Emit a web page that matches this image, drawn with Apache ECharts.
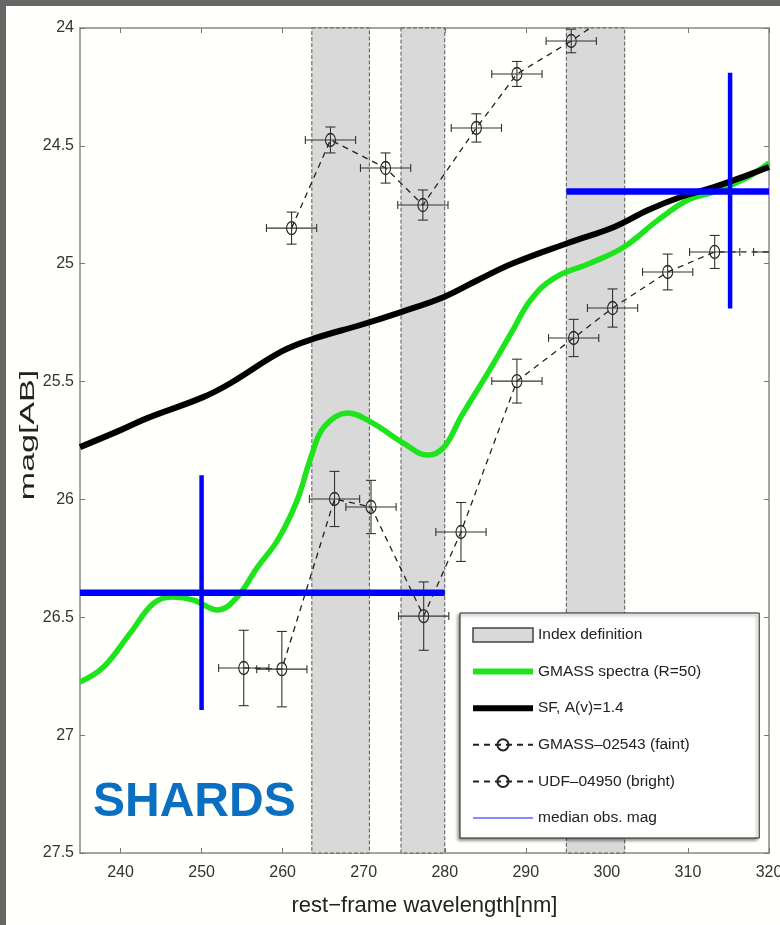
<!DOCTYPE html>
<html>
<head>
<meta charset="utf-8">
<script src="https://cdn.jsdelivr.net/npm/echarts@6/dist/echarts.min.js"></script>
<style>
  html, body { margin: 0; padding: 0; background: #fffffb; }
  #chart { width: 780px; height: 925px; }
</style>
</head>
<body>
<div id="chart"></div>
<script>
// ---- data ----
var wavelengthTicks = [240, 250, 260, 270, 280, 290, 300, 310, 320];

// shaded "Index definition" bands [start, end] in nm
var bands = [[263.6, 270.7], [274.6, 280.0], [295.0, 302.2]];

// GMASS spectra (R=50) - green curve
var gmassWl  = [235.0, 237.9, 241.2, 244.1, 246.5, 249.0, 252.0, 254.4, 256.9, 259.4, 261.8, 263.5, 265.1,
                268.0, 270.9, 274.9, 277.9, 279.9, 282.0, 285.3, 288.2, 290.6, 293.5, 298.0, 302.1, 306.3,
                310.0, 313.2, 317.4, 320.0];
var gmassMag = [26.775, 26.711, 26.567, 26.44, 26.414, 26.427, 26.469, 26.414, 26.287, 26.172, 26.003, 25.82, 25.693,
                25.633, 25.672, 25.761, 25.812, 25.778, 25.65, 25.464, 25.294, 25.154, 25.061, 24.997, 24.929, 24.815,
                24.73, 24.696, 24.632, 24.573];

// SF, A(v)=1.4 - black curve
var sfWl  = [235.0, 240.0, 243.3, 250.2, 253.6, 260.0, 264.1, 269.6, 274.6, 279.9, 284.1, 288.5, 295.2, 300.9,
             305.1, 309.1, 313.2, 317.4, 320.0];
var sfMag = [25.778, 25.706, 25.655, 25.566, 25.506, 25.37, 25.315, 25.26, 25.205, 25.141, 25.069, 24.997, 24.912, 24.844,
             24.772, 24.717, 24.675, 24.624, 24.59];

// GMASS-02543 (faint)
var faintWl     = [255.2, 259.9, 266.4, 270.9, 277.4, 282.0, 288.9, 295.9, 300.7, 307.5, 313.3, 321.2];
var faintMag    = [26.715, 26.72, 25.998, 26.032, 26.495, 26.138, 25.498, 25.315, 25.188, 25.035, 24.95, 24.95];
var faintWlErr  = [3.1, 3.1, 3.1, 3.1, 3.1, 3.1, 3.1, 3.1, 3.1, 3.1, 3.1, 3.1];
var faintMagErr = [0.16, 0.16, 0.117, 0.113, 0.145, 0.125, 0.093, 0.079, 0.081, 0.076, 0.07, 0.07];

// UDF-04950 (bright)
var brightWl     = [261.1, 265.9, 272.7, 277.3, 283.9, 288.9, 295.6, 303.0];
var brightMag    = [24.849, 24.475, 24.594, 24.751, 24.424, 24.195, 24.055, 23.88];
var brightWlErr  = [3.1, 3.1, 3.1, 3.1, 3.1, 3.1, 3.1, 3.1];
var brightMagErr = [0.068, 0.055, 0.064, 0.064, 0.06, 0.053, 0.05, 0.05];

// median observed magnitude crosses
var medianWlRange  = [[235, 280], [295, 320]];
var medianMag      = [26.396, 24.694];
var medianWl       = [250, 315.2];
var medianMagRange = [[25.897, 26.893], [24.19, 25.19]];

// ---- fonts ----
function fontExists(name) {
    var c = document.createElement('canvas').getContext('2d');
    var s = 'mmmmmwwwwiiil 0123456789 Index';
    c.font = '40px monospace';
    var w1 = c.measureText(s).width;
    c.font = '40px "' + name + '", monospace';
    return c.measureText(s).width !== w1;
}
var NARROW = fontExists('Liberation Sans Narrow');
var FONT = NARROW ? '"Liberation Sans Narrow", "Liberation Sans", Arial, sans-serif'
                  : '"Liberation Sans", Arial, sans-serif';
var tickSize = NARROW ? 19 : 16;
var legendSize = NARROW ? 19 : 15.5;
var nameSize = NARROW ? 26 : 22;

var GREEN = '#1de41d';
var BLUE = '#0000ff';

function pairs(xs, ys) {
    return xs.map(function (x, i) { return [x, ys[i]]; });
}

// error bars drawn with the axes' own scale
function errorBar(params, api) {
    var x = api.value(0), y = api.value(1), dx = api.value(2), dy = api.value(3);
    var l = api.coord([x - dx, y]), r = api.coord([x + dx, y]);
    var t = api.coord([x, y - dy]), b = api.coord([x, y + dy]);
    var st = { stroke: '#333', lineWidth: 1.1 };
    var cap = 5, capX = 4;
    function ln(x1, y1, x2, y2) {
        return { type: 'line', shape: { x1: x1, y1: y1, x2: x2, y2: y2 }, style: st };
    }
    return {
        type: 'group',
        children: [
            ln(l[0], l[1], r[0], r[1]),
            ln(t[0], t[1], b[0], b[1]),
            ln(t[0] - cap, t[1], t[0] + cap, t[1]),
            ln(b[0] - cap, b[1], b[0] + cap, b[1]),
            ln(l[0], l[1] - capX, l[0], l[1] + capX),
            ln(r[0], r[1] - capX, r[0], r[1] + capX)
        ]
    };
}

function bandItem(params, api) {
    var a = api.coord([api.value(0), 24]);
    var b = api.coord([api.value(1), 24]);
    var cs = params.coordSys;
    return {
        type: 'rect',
        shape: { x: a[0], y: cs.y, width: b[0] - a[0], height: cs.height },
        style: { fill: '#d9d9d9', stroke: '#555', lineWidth: 1, lineDash: [4, 2] }
    };
}

var chart = echarts.init(document.getElementById('chart'));

var axisLineStyle = { color: '#888', width: 1.5 };

var option = {
    backgroundColor: '#fffffb',
    animation: false,
    grid: { left: 80, right: 11, top: 28, bottom: 72, outerBoundsMode: 'none', containLabel: false },
    xAxis: [{
        type: 'value',
        min: 235,
        max: 320,
        name: 'rest\u2212frame wavelength[nm]',
        nameLocation: 'middle',
        nameGap: 42,
        nameTextStyle: { fontFamily: FONT, fontSize: nameSize, color: '#222' },
        axisLine: { show: true, lineStyle: axisLineStyle },
        axisTick: { show: true, inside: true, length: 5, customValues: wavelengthTicks, lineStyle: { color: '#777' } },
        axisLabel: { customValues: wavelengthTicks, fontFamily: FONT, fontSize: tickSize, color: '#333', margin: 12 },
        splitLine: { show: false }
    }, {
        type: 'value',
        position: 'top',
        min: 235,
        max: 320,
        axisLine: { show: true, lineStyle: axisLineStyle },
        axisTick: { show: true, inside: true, length: 5, customValues: wavelengthTicks, lineStyle: { color: '#777' } },
        axisLabel: { show: false },
        splitLine: { show: false }
    }],
    yAxis: [{
        type: 'value',
        inverse: true,
        min: 24,
        max: 27.5,
        interval: 0.5,
        axisLine: { show: true, lineStyle: axisLineStyle },
        axisTick: { show: true, inside: true, length: 5, lineStyle: { color: '#777' } },
        axisLabel: { fontFamily: FONT, fontSize: tickSize, color: '#333', margin: 6, showMinLabel: true, showMaxLabel: true },
        splitLine: { show: false }
    }, {
        type: 'value',
        position: 'right',
        inverse: true,
        min: 24,
        max: 27.5,
        interval: 0.5,
        axisLine: { show: true, lineStyle: axisLineStyle },
        axisTick: { show: true, inside: true, length: 5, lineStyle: { color: '#777' } },
        axisLabel: { show: false },
        splitLine: { show: false }
    }],
    legend: {
        orient: 'vertical',
        left: 460,
        top: 613,
        padding: [14, 58, 12, 12],
        itemWidth: 60,
        itemHeight: 14,
        itemGap: 20.6,
        backgroundColor: '#fff',
        borderColor: '#222',
        borderWidth: 1,
        borderRadius: 0,
        shadowColor: 'rgba(0,0,0,0.45)',
        shadowBlur: 3,
        shadowOffsetX: -2,
        shadowOffsetY: 2,
        textStyle: { fontFamily: FONT, fontSize: legendSize, color: '#222' },
        data: [
            { name: 'Index definition', icon: 'rect', itemStyle: { color: '#d9d9d9', borderColor: '#444', borderWidth: 1.5 } },
            { name: 'GMASS spectra (R=50)', icon: 'path://M0,0H60V6H0Z', itemStyle: { color: GREEN } },
            { name: 'SF, A(v)=1.4', icon: 'path://M0,0H60V6H0Z', itemStyle: { color: '#000' } },
            { name: 'GMASS\u201302543 (faint)' },
            { name: 'UDF\u201304950 (bright)' },
            { name: 'median obs. mag', icon: 'path://M0,0H60V1.5H0Z', itemStyle: { color: '#6666ff' } }
        ]
    },
    graphic: [
        { type: 'rect', shape: { x: 0, y: 0, width: 780, height: 6 }, style: { fill: '#666' }, z: 200 },
        { type: 'rect', shape: { x: 0, y: 0, width: 6, height: 925 }, style: { fill: '#666' }, z: 200 },
        {
            type: 'text', x: 28, y: 435, rotation: Math.PI / 2, scaleX: 1.7, z: 100,
            style: { text: 'mag[AB]', font: '20px "Liberation Sans", Arial, sans-serif', fill: '#222', align: 'center', verticalAlign: 'middle' }
        },
        {
            type: 'text', x: 93, y: 803, z: 100,
            style: { text: 'SHARDS', font: 'bold 48px "Liberation Sans", Arial, sans-serif', fill: '#0b6fc1', align: 'left', verticalAlign: 'middle' }
        }
    ],
    series: [
        {
            name: 'Index definition',
            type: 'custom',
            renderItem: bandItem,
            encode: { x: [0, 1] },
            data: bands,
            itemStyle: { color: '#d9d9d9' },
            z: 1
        },
        {
            name: 'GMASS spectra (R=50)',
            type: 'line',
            data: pairs(gmassWl, gmassMag),
            smooth: 0.4,
            symbol: 'none',
            lineStyle: { color: GREEN, width: 5.5 },
            itemStyle: { color: GREEN },
            z: 3
        },
        {
            name: 'SF, A(v)=1.4',
            type: 'line',
            data: pairs(sfWl, sfMag),
            smooth: 0.4,
            symbol: 'none',
            lineStyle: { color: '#000', width: 6 },
            itemStyle: { color: '#000' },
            z: 3
        },
        {
            name: 'GMASS\u201302543 (faint)',
            type: 'line',
            data: pairs(faintWl, faintMag),
            symbol: 'circle',
            symbolSize: [10, 13],
            lineStyle: { color: '#222', width: 1.3, type: [6, 5] },
            itemStyle: { color: 'rgba(0,0,0,0)', borderColor: '#222', borderWidth: 1.2 },
            z: 4
        },
        {
            name: 'UDF\u201304950 (bright)',
            type: 'line',
            data: pairs(brightWl, brightMag),
            symbol: 'circle',
            symbolSize: [10, 13],
            lineStyle: { color: '#222', width: 1.3, type: [6, 5] },
            itemStyle: { color: 'rgba(0,0,0,0)', borderColor: '#222', borderWidth: 1.2 },
            z: 4
        },
        {
            type: 'custom',
            renderItem: errorBar,
            clip: true,
            encode: { x: 0, y: 1 },
            data: faintWl.map(function (w, i) { return [w, faintMag[i], faintWlErr[i], faintMagErr[i]]; }),
            z: 5
        },
        {
            type: 'custom',
            renderItem: errorBar,
            clip: true,
            encode: { x: 0, y: 1 },
            data: brightWl.map(function (w, i) { return [w, brightMag[i], brightWlErr[i], brightMagErr[i]]; }),
            z: 5
        },
        {
            name: 'median obs. mag',
            type: 'line',
            data: [[medianWlRange[0][0], medianMag[0]], [medianWlRange[0][1], medianMag[0]], '-',
                   [medianWlRange[1][0], medianMag[1]], [medianWlRange[1][1], medianMag[1]]],
            symbol: 'none',
            lineStyle: { color: BLUE, width: 6.5 },
            itemStyle: { color: BLUE },
            z: 6
        },
        {
            name: 'median obs. mag',
            type: 'line',
            data: [[medianWl[0], medianMagRange[0][0]], [medianWl[0], medianMagRange[0][1]], '-',
                   [medianWl[1], medianMagRange[1][0]], [medianWl[1], medianMagRange[1][1]]],
            symbol: 'none',
            lineStyle: { color: BLUE, width: 4.5 },
            itemStyle: { color: BLUE },
            z: 6
        }
    ]
};

chart.setOption(option);
</script>
</body>
</html>
